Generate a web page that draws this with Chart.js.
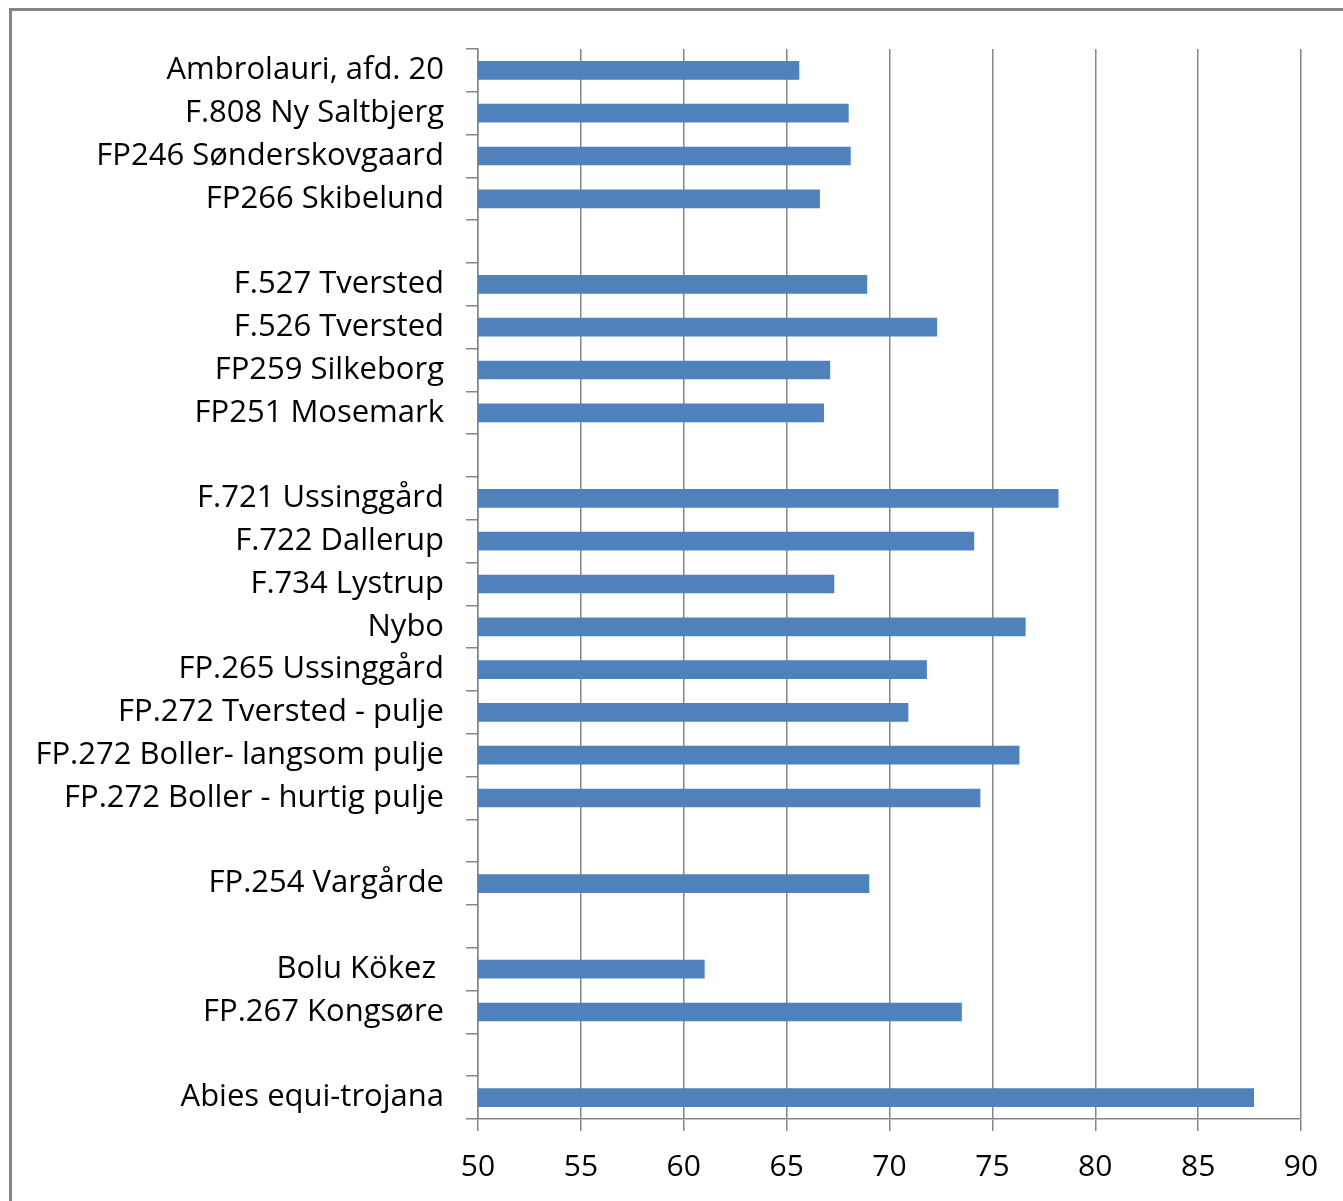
<!DOCTYPE html>
<html>
<head>
<meta charset="utf-8">
<script src="https://cdn.jsdelivr.net/npm/chart.js@4"></script>
<style>
  html, body { margin: 0; padding: 0; background: #fff; }
  #wrap { position: relative; width: 1343px; height: 1201px; }
  #frame {
    position: absolute; left: 9px; top: 8px; right: -10px; bottom: -10px;
    border-left: 3px solid #868686; border-top: 3px solid #868686;
    pointer-events: none;
  }
  canvas { position: absolute; left: 0; top: 0; }
</style>
</head>
<body>
<div id="wrap">
  <canvas id="chart" width="1343" height="1201"></canvas>
  <div id="frame"></div>
</div>
<script>
// categories (blank entries are the gaps between groups)
const categories = [
  'Ambrolauri, afd. 20',
  'F.808 Ny Saltbjerg',
  'FP246 Sønderskovgaard',
  'FP266 Skibelund',
  '',
  'F.527 Tversted',
  'F.526 Tversted',
  'FP259 Silkeborg',
  'FP251 Mosemark',
  '',
  'F.721 Ussinggård',
  'F.722 Dallerup',
  'F.734 Lystrup',
  'Nybo',
  'FP.265 Ussinggård',
  'FP.272 Tversted - pulje',
  'FP.272 Boller- langsom pulje',
  'FP.272 Boller - hurtig pulje',
  '',
  'FP.254 Vargårde',
  '',
  'Bolu Kökez ',
  'FP.267 Kongsøre',
  '',
  'Abies equi-trojana'
];

const values = [
  65.6, 68.0, 68.1, 66.6,
  null,
  68.9, 72.3, 67.1, 66.8,
  null,
  78.2, 74.1, 67.3, 76.6, 71.8, 70.9, 76.3, 74.4,
  null,
  69.0,
  null,
  61.0, 73.5,
  null,
  87.7
];

const xTicks = [50, 55, 60, 65, 70, 75, 80, 85, 90];

const axisGray = '#868686';
const fontFamily = '"Open Sans", "Noto Sans", sans-serif';

new Chart(document.getElementById('chart'), {
  type: 'bar',
  data: {
    labels: categories,
    datasets: [{
      data: values,
      backgroundColor: '#4f81bd',
      barThickness: 18
    }]
  },
  options: {
    indexAxis: 'y',
    responsive: false,
    animation: false,
    devicePixelRatio: 1,
    layout: { padding: { top: 49, right: 42, left: 0, bottom: 0 } },
    plugins: { legend: { display: false }, tooltip: { enabled: false } },
    scales: {
      x: {
        min: xTicks[0],
        max: xTicks[xTicks.length - 1],
        afterBuildTicks: s => { s.ticks = xTicks.map(v => ({ value: v })); },
        afterFit: s => { s.height = 82; },
        grid: { color: axisGray, lineWidth: 1.5, tickLength: 12 },
        border: { color: axisGray, width: 1.5 },
        ticks: {
          color: '#000',
          padding: 18,
          maxRotation: 0,
          font: { family: fontFamily, size: 30 }
        }
      },
      y: {
        offset: true,
        afterFit: s => { s.width = 478; },
        grid: {
          offset: true,
          drawOnChartArea: false,
          color: axisGray,
          lineWidth: 1.5,
          tickLength: 12
        },
        border: { color: axisGray, width: 1.5 },
        ticks: {
          color: '#000',
          padding: 22,
          autoSkip: false,
          font: { family: fontFamily, size: 31 }
        }
      }
    }
  }
});
</script>
</body>
</html>
